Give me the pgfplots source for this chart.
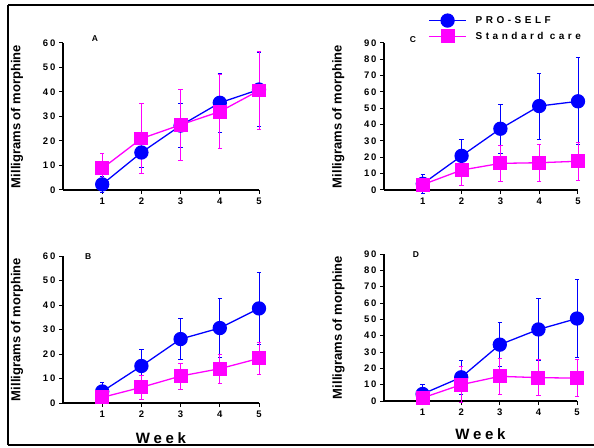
\documentclass[border=0pt]{standalone}
\usepackage{fontspec}
\setmainfont{Liberation Sans}
\newfontfamily\spaced{Liberation Sans}[LetterSpace=20]
\newfontfamily\widespaced{Liberation Sans}[LetterSpace=35]
\newfontfamily\weekfont{Liberation Sans}[LetterSpace=25]
\usepackage{pgfplots}
\usepackage{pgfplotstable}
\pgfplotsset{compat=1.18}
\definecolor{problue}{RGB}{0,0,255}
\definecolor{stdpink}{RGB}{255,0,255}

\pgfplotstableread{
x pro proerr std stderr
1 2.3 3.3 8.8 6.0
2 15.3 6.0 21.0 14.3
3 26.3 9.0 26.6 14.5
4 35.6 12.0 32.0 15.0
5 41.0 15.0 40.6 16.0
}\dataA
\pgfplotstableread{
x pro proerr std stderr
1 4.7 3.7 2.3 1.5
2 15.1 6.6 6.4 5.0
3 26.1 8.5 11.0 5.3
4 30.6 12.0 14.0 6.0
5 38.6 14.8 18.2 6.6
}\dataB
\pgfplotstableread{
x pro proerr std stderr
1 3.8 6.0 3.3 2.0
2 20.9 10.0 12.2 9.7
3 37.5 15.0 16.3 11.0
4 51.4 20.2 16.7 11.4
5 54.3 26.6 17.6 11.6
}\dataC
\pgfplotstableread{
x pro proerr std stderr
1 4.3 5.6 1.9 1.5
2 14.5 10.3 10.0 10.9
3 34.5 13.5 15.1 11.0
4 43.8 19.2 14.3 11.0
5 50.5 24.0 14.0 11.4
}\dataD

\pgfplotsset{
  panel/.style={
    scale only axis, height=147pt,
    xmin=0, xmax=5, ymin=0,
    axis x line*=bottom, axis y line*=left,
    axis line style={line width=1.2pt,-},
    xtick={1,2,3,4,5}, ytick distance=10,
    tick align=outside, major tick length=4pt,
    tick style={line width=1pt,black},
    clip=false,
    tick label style={font=\spaced\bfseries\fontsize{9.5}{10}\selectfont},
    /pgf/number format/assume math mode=true,
    ylabel={Milligrams of morphine},
    ylabel style={font=\bfseries\fontsize{13}{14}\selectfont,
      at={(axis description cs:-0.235,0.5)}, anchor=center},
    legend image code/.code={\draw[mark repeat=2,mark phase=2,##1]
      plot coordinates {(0pt,0pt) (18.5pt,0pt) (37pt,0pt)};},
  },
  pro/.style={color=problue, line width=1.3pt, mark=*, mark size=6.5pt,
    mark options={solid, fill=problue, draw=problue},
    error bars/.cd, y dir=both, y explicit,
    error bar style={line width=0.9pt, problue},
    error mark options={rotate=90, mark size=2.2pt, line width=0.9pt, problue}},
  std/.style={color=stdpink, line width=1.3pt, mark=square*, mark size=6.3pt,
    mark options={solid, fill=stdpink, draw=stdpink},
    error bars/.cd, y dir=both, y explicit,
    error bar style={line width=0.9pt, stdpink},
    error mark options={rotate=90, mark size=2.2pt, line width=0.9pt, stdpink}},
  weeklabel/.style={xlabel={Week},
    xlabel style={font=\weekfont\bfseries\fontsize{15}{16}\selectfont,
      at={(axis description cs:0.5,0)}, anchor=center, yshift=-#1}},
}

\begin{document}
\begin{tikzpicture}
\useasboundingbox (0pt,0pt) rectangle (594pt,447pt);
\draw[line width=2.5pt] (8pt,442pt) -- (594pt,442pt);
\draw[line width=2.5pt] (8pt,442pt) -- (8pt,2pt);
\draw[line width=1.2pt] (8pt,2pt) -- (594pt,2pt);

% Panel A
\begin{axis}[panel, width=196pt, ymax=60, at={(63pt,257pt)}, anchor=south west]
\addplot[pro] table[x=x,y=pro,y error=proerr]{\dataA};
\addplot[std] table[x=x,y=std,y error=stderr]{\dataA};
\node[font=\bfseries\fontsize{8.5}{9}\selectfont] at (axis description cs:0.163,1.027) {A};
\end{axis}

% Panel B
\begin{axis}[panel, width=196pt, ymax=60, at={(63pt,44pt)}, anchor=south west, weeklabel=35pt]
\addplot[pro] table[x=x,y=pro,y error=proerr]{\dataB};
\addplot[std] table[x=x,y=std,y error=stderr]{\dataB};
\node[font=\bfseries\fontsize{8.5}{9}\selectfont] at (axis description cs:0.128,0.993) {B};
\end{axis}

% Panel C
\begin{axis}[panel, width=194pt, ymax=90, at={(384pt,257pt)}, anchor=south west,
  legend style={draw=none, fill=none, inner sep=0pt,
    at={(axis description cs:0.228,1.099)}, anchor=west,
    font=\widespaced\bfseries\fontsize{10}{11}\selectfont,
    row sep=3pt,
    /tikz/every odd column/.append style={column sep=7pt}},
  legend cell align=left]
\addplot[pro] table[x=x,y=pro,y error=proerr]{\dataC};
\addplot[std] table[x=x,y=std,y error=stderr]{\dataC};
\legend{PRO-SELF, Standard care}
\node[font=\bfseries\fontsize{8.5}{9}\selectfont] at (axis description cs:0.149,1.02) {C};
\end{axis}

% Panel D
\begin{axis}[panel, width=193pt, ymax=90, at={(384pt,46pt)}, anchor=south west, weeklabel=33pt]
\addplot[pro] table[x=x,y=pro,y error=proerr]{\dataD};
\addplot[std] table[x=x,y=std,y error=stderr]{\dataD};
\node[font=\bfseries\fontsize{8.5}{9}\selectfont] at (axis description cs:0.165,0.993) {D};
\end{axis}
\end{tikzpicture}
\end{document}
